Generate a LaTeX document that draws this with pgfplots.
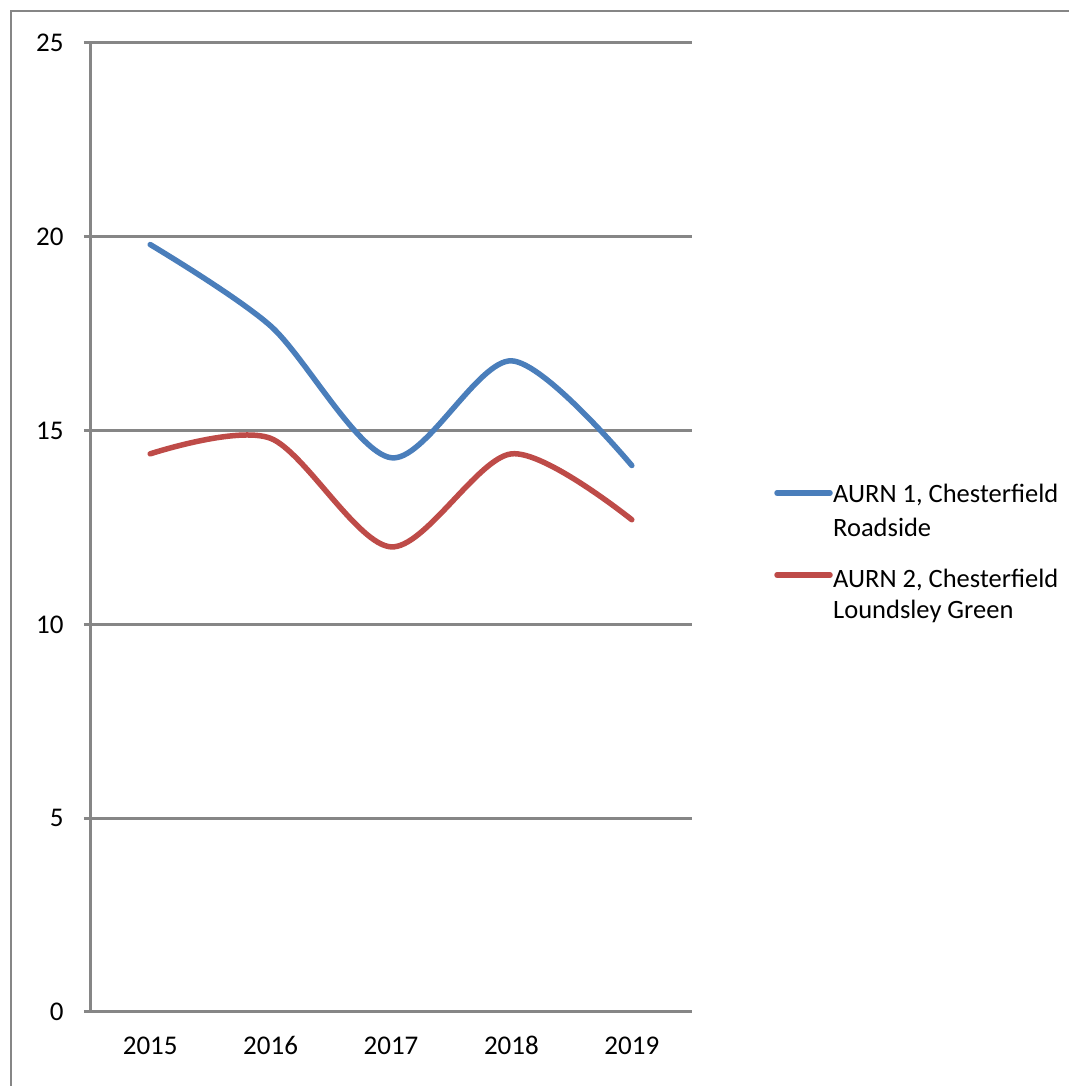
\documentclass[border=0pt]{standalone}
\usepackage{fontspec}
\setmainfont{Carlito}
\usepackage{pgfplots}
\pgfplotsset{compat=1.18}
\definecolor{serA}{RGB}{74,126,187}
\definecolor{serB}{RGB}{190,75,72}
\definecolor{gridc}{RGB}{134,134,134}
\begin{document}
\begin{tikzpicture}[x=1pt,y=1pt]
\path[use as bounding box] (0,0) rectangle (1068,1086);
\draw[gridc, line width=2.5pt] (11,-5) -- (11,1075) -- (1075,1075);
\begin{axis}[at={(90pt,74pt)}, anchor=south west, scale only axis,
  width=602pt, height=969pt,
  xmin=-0.5, xmax=4.5, ymin=0, ymax=25,
  axis x line*=bottom, axis y line*=left,
  axis line style={gridc, line width=3pt, -},
  xtick={0,1,2,3,4}, xticklabels={2015,2016,2017,2018,2019},
  xtick style={draw=none},
  minor xtick={-0.5,0.5,1.5,2.5,3.5,4.5},
  minor x tick style={gridc, line width=3pt},
  minor tick length=6pt,
  ytick={0,5,10,15,20,25},
  ytick style={gridc, line width=3pt},
  major tick length=6pt,
  tick align=outside,
  ymajorgrids, major grid style={gridc, line width=3pt},
  tick label style={font=\fontsize{27}{32}\selectfont, text=black},
  yticklabel style={xshift=-17pt},
  xticklabel style={yshift=-15pt},
  /pgf/number format/assume math mode=true,
  clip=false,
]
\addplot[serA, line width=5.5pt, smooth, line cap=round] coordinates {(0,19.8)(1,17.7)(2,14.3)(3,16.8)(4,14.1)};
\addplot[serB, line width=5.5pt, smooth, line cap=round] coordinates {(0,14.4)(1,14.8)(2,12.0)(3,14.4)(4,12.7)};
\end{axis}
\begin{scope}[font=\fontsize{26.5}{31}\selectfont]
\draw[serA, line width=5.5pt, line cap=round] (777,593) -- (830,593);
\node[anchor=base west, inner sep=0pt] at (833,583) {AURN 1, Chesterfield};
\node[anchor=base west, inner sep=0pt] at (833,549) {Roadside};
\draw[serB, line width=5.5pt, line cap=round] (777,511) -- (830,511);
\node[anchor=base west, inner sep=0pt] at (833,498) {AURN 2, Chesterfield};
\node[anchor=base west, inner sep=0pt] at (833,467) {Loundsley Green};
\end{scope}
\end{tikzpicture}
\end{document}
